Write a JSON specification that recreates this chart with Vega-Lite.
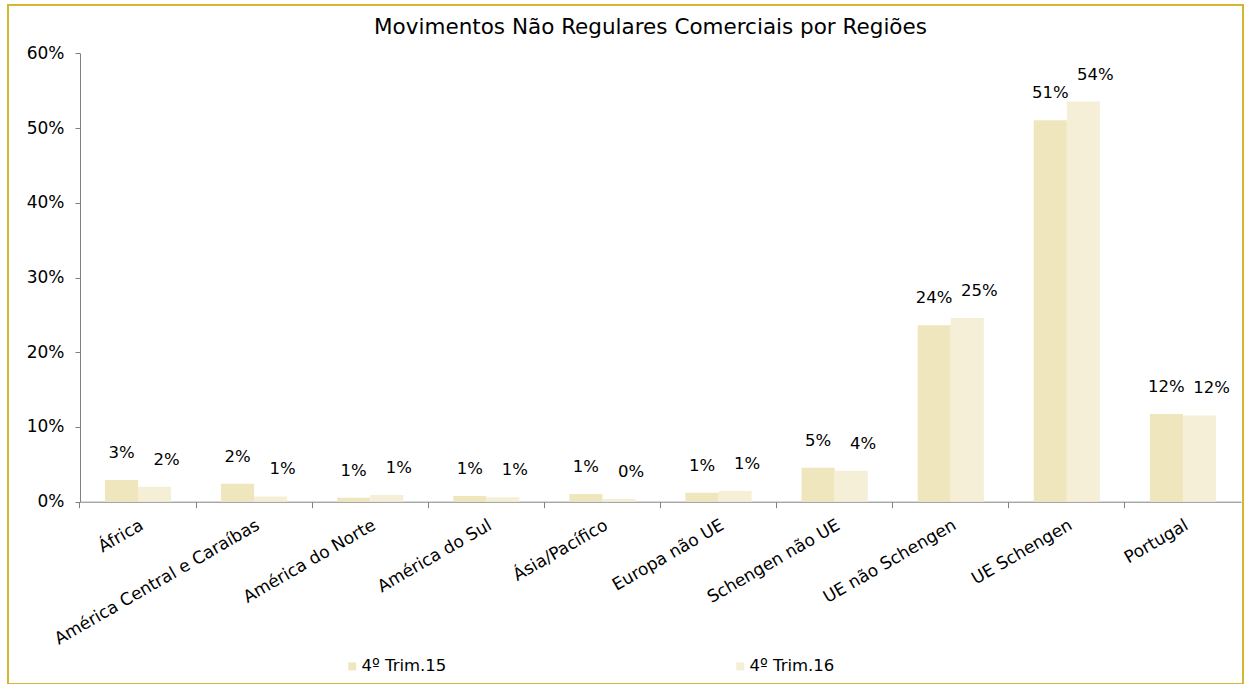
{
  "$schema": "https://vega.github.io/schema/vega-lite/v6.json",
  "width": 1235,
  "height": 679,
  "autosize": "none",
  "padding": {"left": 8, "top": 5, "right": 5, "bottom": 0},
  "background": "white",
  "config": {
    "view": {"stroke": "#D4B634", "strokeWidth": 2},
    "font": "DejaVu Sans"
  },
  "title": {
    "text": "Movimentos Não Regulares Comerciais por Regiões",
    "fontSize": 21.5,
    "fontWeight": "normal",
    "color": "black",
    "font": "DejaVu Sans",
    "offset": -33,
    "dx": 25,
    "anchor": "middle"
  },
  "data": {
    "values": [
      {"regiao": "África", "periodo": "4º Trim.15", "valor": 0.029},
      {"regiao": "África", "periodo": "4º Trim.16", "valor": 0.020},
      {"regiao": "América Central e Caraíbas", "periodo": "4º Trim.15", "valor": 0.024},
      {"regiao": "América Central e Caraíbas", "periodo": "4º Trim.16", "valor": 0.007},
      {"regiao": "América do Norte", "periodo": "4º Trim.15", "valor": 0.0054},
      {"regiao": "América do Norte", "periodo": "4º Trim.16", "valor": 0.009},
      {"regiao": "América do Sul", "periodo": "4º Trim.15", "valor": 0.0076},
      {"regiao": "América do Sul", "periodo": "4º Trim.16", "valor": 0.0059},
      {"regiao": "Ásia/Pacífico", "periodo": "4º Trim.15", "valor": 0.0103},
      {"regiao": "Ásia/Pacífico", "periodo": "4º Trim.16", "valor": 0.0036},
      {"regiao": "Europa não UE", "periodo": "4º Trim.15", "valor": 0.012},
      {"regiao": "Europa não UE", "periodo": "4º Trim.16", "valor": 0.0143},
      {"regiao": "Schengen não UE", "periodo": "4º Trim.15", "valor": 0.0455},
      {"regiao": "Schengen não UE", "periodo": "4º Trim.16", "valor": 0.0415},
      {"regiao": "UE não Schengen", "periodo": "4º Trim.15", "valor": 0.236},
      {"regiao": "UE não Schengen", "periodo": "4º Trim.16", "valor": 0.2458},
      {"regiao": "UE Schengen", "periodo": "4º Trim.15", "valor": 0.5105},
      {"regiao": "UE Schengen", "periodo": "4º Trim.16", "valor": 0.5355},
      {"regiao": "Portugal", "periodo": "4º Trim.15", "valor": 0.1174},
      {"regiao": "Portugal", "periodo": "4º Trim.16", "valor": 0.1155}
    ]
  },
  "encoding": {
    "x": {
      "field": "regiao",
      "type": "nominal",
      "sort": null,
      "scale": {"range": [72, 1233], "paddingInner": 0.43, "paddingOuter": 0.215},
      "axis": {
        "title": null,
        "offset": -182.3,
        "bandPosition": -0.378,
        "labelAngle": -30,
        "labelAlign": "right",
        "labelBaseline": "top",
        "labelFontSize": 17,
        "labelColor": "black",
        "labelPadding": 9,
        "labelFont": "DejaVu Sans",
        "domainColor": "#808080",
        "tickColor": "#808080",
        "tickSize": 6,
        "labelLimit": 400,
        "grid": false
      }
    },
    "xOffset": {"field": "periodo", "type": "nominal", "sort": null},
    "y": {
      "field": "valor",
      "type": "quantitative",
      "scale": {"domain": [0, 0.6], "range": [496.7, 48.3], "nice": false},
      "axis": {
        "title": null,
        "offset": -72,
        "values": [0, 0.1, 0.2, 0.3, 0.4, 0.5, 0.6],
        "format": ".0%",
        "labelFontSize": 17,
        "labelColor": "black",
        "labelFont": "DejaVu Sans",
        "labelPadding": 11,
        "domainColor": "#808080",
        "tickColor": "#808080",
        "tickSize": 5,
        "grid": false
      }
    }
  },
  "layer": [
    {
      "mark": {"type": "bar"},
      "encoding": {
        "color": {
          "field": "periodo",
          "type": "nominal",
          "scale": {"domain": ["4º Trim.15", "4º Trim.16"], "range": ["#F0E6BE", "#F5EFD7"]},
          "legend": {
            "orient": "none",
            "legendX": 336,
            "legendY": 653,
            "direction": "horizontal",
            "title": null,
            "symbolType": "square",
            "symbolSize": 64,
            "symbolStrokeWidth": 0,
            "labelFontSize": 16.5,
            "labelFont": "DejaVu Sans",
            "labelColor": "black",
            "labelOffset": 1,
            "columnPadding": 285
          }
        }
      }
    },
    {
      "transform": [{"filter": "datum.periodo === '4º Trim.15'"}],
      "mark": {"type": "text", "dy": -27, "dx": 0, "baseline": "middle", "fontSize": 16.5, "color": "black", "font": "DejaVu Sans"},
      "encoding": {"text": {"field": "valor", "type": "quantitative", "format": ".0%"}}
    },
    {
      "transform": [{"filter": "datum.periodo === '4º Trim.16'"}],
      "mark": {"type": "text", "dy": -27, "dx": 12, "baseline": "middle", "fontSize": 16.5, "color": "black", "font": "DejaVu Sans"},
      "encoding": {"text": {"field": "valor", "type": "quantitative", "format": ".0%"}}
    }
  ]
}
